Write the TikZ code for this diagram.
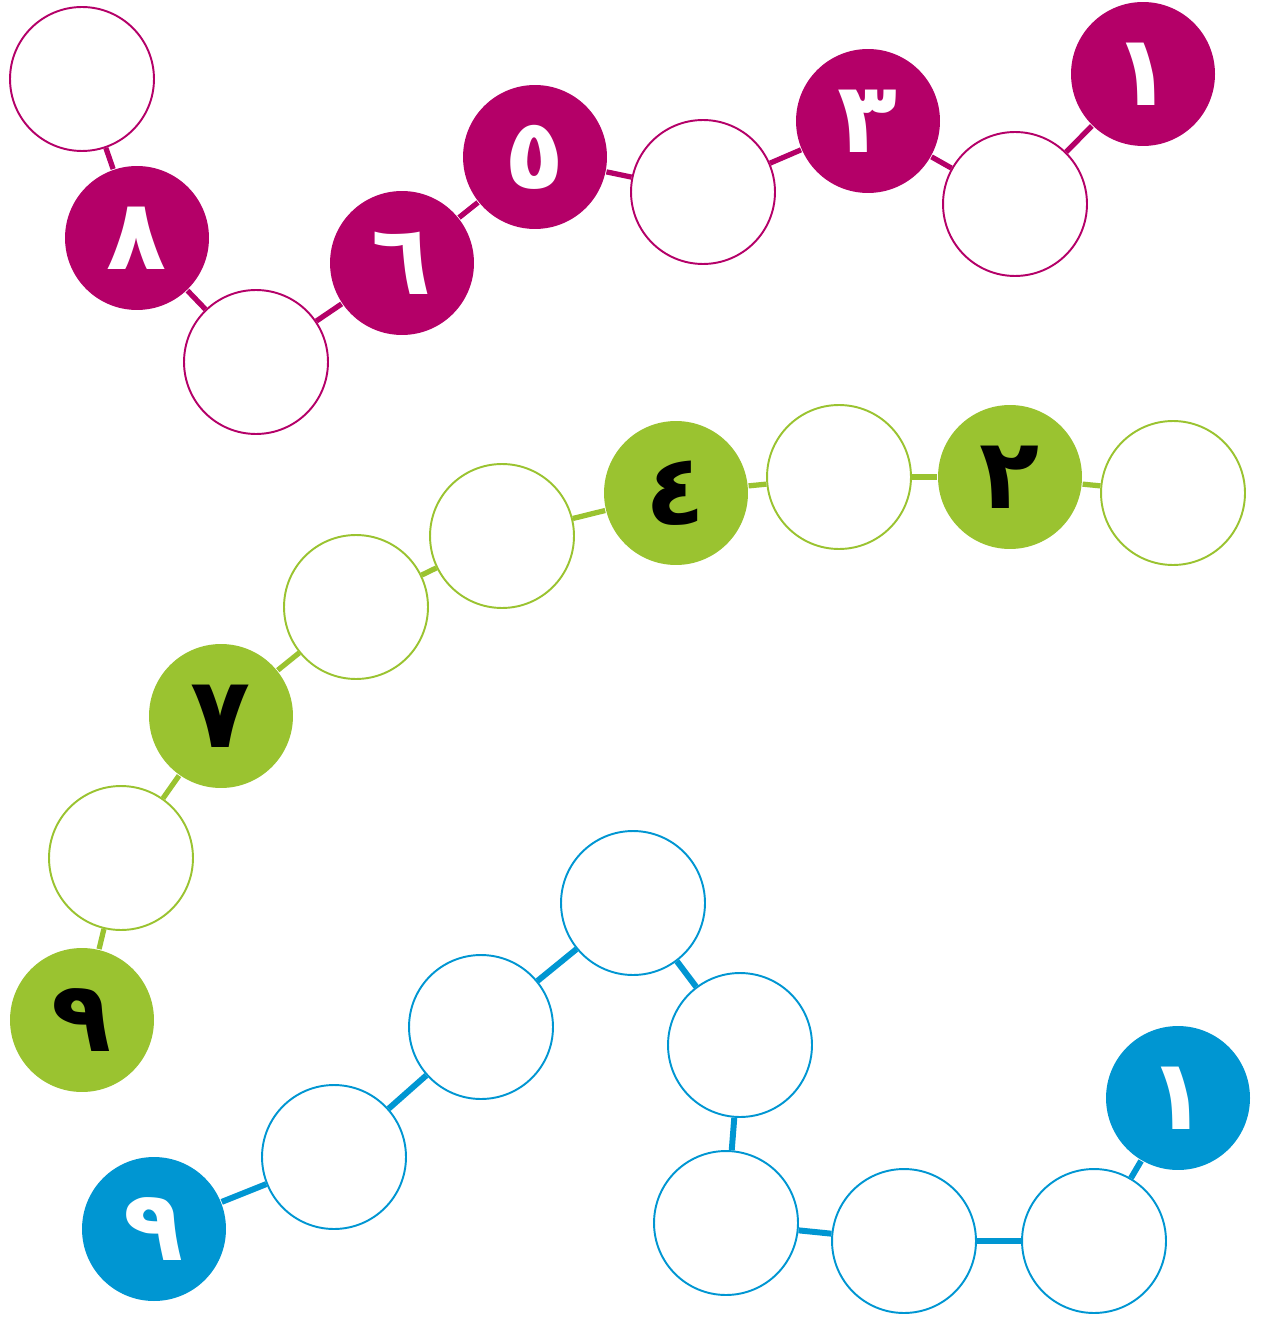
\documentclass[tikz,border=0pt]{standalone}
\usepackage{fontspec}
\usepackage{tikz}
\newfontfamily\arabicfont[Script=Arabic]{DejaVu Sans}
\TeXXeTstate=1
\definecolor{plum}{RGB}{180,0,104}
\definecolor{lime}{RGB}{154,195,48}
\definecolor{sky}{RGB}{0,150,210}

\begin{document}
\begin{tikzpicture}[x=0.02cm,y=-0.02cm]

        \tikzstyle{bead} = [circle, minimum size=2.88cm, inner sep=0pt, line width=1.1pt,
                            font=\arabicfont\bfseries\fontsize{56}{56}\selectfont]
        \tikzstyle{link} = [line width=3pt]
        \useasboundingbox (0,0) rectangle (1263,1317);

        % top chain
        \foreach \x/\y/\f/\t [count=\i] in {82/79/0/-, 137/238/1/٨, 256/362/0/-, 402/263/1/٦,
                535/157/1/٥, 703/192/0/-, 868/121/1/٣, 1015/204/0/-, 1143/74/1/١}
        {
                \ifnum \f=1
                        \node [bead, fill=plum, text=white](m\i) at (\x,\y) {\beginR\t\endR};
                \else
                        \node [bead, draw=plum, fill=white](m\i) at (\x,\y) {};
                \fi
        }
        \foreach \i [remember=\i as \j (initially 1)] in {2,...,9}
                \draw [link, plum] (m\j) -- (m\i);

        % middle chain
        \foreach \x/\y/\f/\t [count=\i] in {82/1020/1/٩, 121/858/0/-, 221/716/1/٧, 356/607/0/-,
                502/536/0/-, 676/493/1/٤, 839/477/0/-, 1010/477/1/٢, 1173/493/0/-}
        {
                \ifnum \f=1
                        \node [bead, fill=lime, text=black](g\i) at (\x,\y) {\beginR\t\endR};
                \else
                        \node [bead, draw=lime, fill=white](g\i) at (\x,\y) {};
                \fi
        }
        \foreach \i [remember=\i as \j (initially 1)] in {2,...,9}
                \draw [link, lime] (g\j) -- (g\i);

        % bottom chain
        \foreach \x/\y/\f/\t [count=\i] in {154/1229/1/٩, 334/1157/0/-, 481/1027/0/-, 633/903/0/-,
                740/1045/0/-, 726/1223/0/-, 904/1241/0/-, 1094/1241/0/-, 1178/1098/1/١}
        {
                \ifnum \f=1
                        \node [bead, fill=sky, text=white](b\i) at (\x,\y) {\beginR\t\endR};
                \else
                        \node [bead, draw=sky, fill=white](b\i) at (\x,\y) {};
                \fi
        }
        \foreach \i [remember=\i as \j (initially 1)] in {2,...,9}
                \draw [link, sky, line width=3.4pt] (b\j) -- (b\i);

\end{tikzpicture}
\end{document}
